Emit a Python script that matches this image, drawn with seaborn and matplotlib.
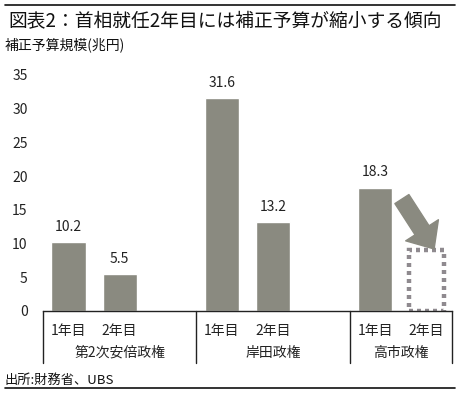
import numpy as np
import pandas as pd
import matplotlib
matplotlib.use("Agg")
import matplotlib.pyplot as plt
import seaborn as sns

# データ
groups = ["第2次安倍政権", "岸田政権", "高市政権"]
years = ["1年目", "2年目"]
positions = [0, 1, 3, 4, 6, 7]
values = [10.2, 5.5, 31.6, 13.2, 18.3, 9.0]   # 最後は見込み（点線枠）
value_labels = ["10.2", "5.5", "31.6", "13.2", "18.3", ""]
yticks = [0, 5, 10, 15, 20, 25, 30, 35]

df = pd.DataFrame({"pos": positions, "value": values})

sns.set_style("white")
plt.rcParams["font.family"] = ["Noto Sans CJK JP", "DejaVu Sans"]

bar_color = "#8a8a80"
text_color = "#222222"

fig = plt.figure(figsize=(4.6, 3.94), dpi=100)
ax = fig.add_axes([43 / 460, 1 - 311 / 394, (452 - 43) / 460, (311 - 75) / 394])

sns.barplot(data=df, x="pos", y="value", native_scale=True, width=0.67,
            color=bar_color, saturation=1, ax=ax)

# 見込みの棒は点線枠に
last = max(ax.patches, key=lambda p: p.get_x())
last.set_facecolor("none")
last.set_edgecolor("#8f8a8f")
last.set_linewidth(3.2)
last.set_linestyle((0, (0.9, 0.9)))

ax.bar_label(ax.containers[0], labels=value_labels, padding=6, fontsize=10,
             color=text_color)

ax.set_xlim(-0.5, 7.5)
ax.set_ylim(0, 35)
ax.set_yticks(yticks)
ax.set_yticklabels([str(t) for t in yticks], fontsize=10, color=text_color)
ax.tick_params(axis="y", length=0, pad=11)
ax.set_xticks([])
ax.set_xlabel("")
ax.set_ylabel("")
for s in ["left", "right", "top"]:
    ax.spines[s].set_visible(False)
ax.spines["bottom"].set_color("#222222")
ax.spines["bottom"].set_linewidth(1)

# 下の表
for xv in [-0.5, 2.5, 5.5, 7.5]:
    ax.plot([xv, xv], [0, -7.7], color="#222222", lw=1, clip_on=False)
for i, p in enumerate(positions):
    ax.text(p, -2.95, years[i % 2], ha="center", va="center", fontsize=10,
            color=text_color, clip_on=False)
for g, cx in zip(groups, [1, 4, 6.5]):
    ax.text(cx, -6.2, g, ha="center", va="center", fontsize=10,
            color=text_color, clip_on=False)

# 矢印
ax.annotate("", xy=(7.15, 9.2), xytext=(6.52, 16.6),
            arrowprops=dict(arrowstyle="simple,head_length=0.8,head_width=1.4,tail_width=0.6",
                            color=bar_color, mutation_scale=20, shrinkA=0, shrinkB=0))

# タイトル等
fig.text(8 / 460, 1 - 22 / 394, "図表2：首相就任2年目には補正予算が縮小する傾向",
         fontsize=13.5, color="#111111", va="center", ha="left")
fig.text(5 / 460, 1 - 45 / 394, "補正予算規模(兆円)", fontsize=10,
         color="#111111", va="center", ha="left")
fig.text(5 / 460, 1 - 380 / 394, "出所:財務省、UBS", fontsize=9.5,
         color="#111111", va="center", ha="left")
fig.add_artist(plt.Line2D([5 / 460, 455 / 460], [1 - 5 / 394, 1 - 5 / 394],
                          color="#111111", lw=1.2))
fig.add_artist(plt.Line2D([5 / 460, 455 / 460], [1 - 388 / 394, 1 - 388 / 394],
                          color="#111111", lw=1.2))

fig.savefig("out.png", dpi=100)
